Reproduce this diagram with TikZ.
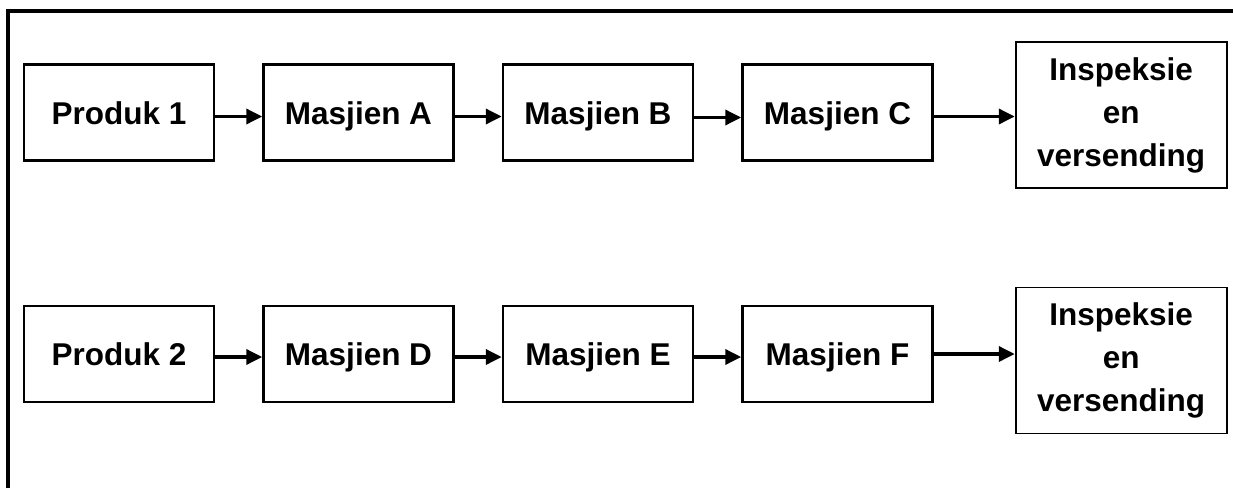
\documentclass[tikz,border=0pt]{standalone}
\usepackage{fontspec}
\setmainfont{Liberation Sans}
\usetikzlibrary{arrows.meta, positioning}

\begin{document}
\begin{tikzpicture}[x=0.5pt, y=-0.5pt]
\tikzstyle{stage} = [rectangle, draw, line width=1.25pt, minimum width=95pt, minimum height=48pt, inner sep=0pt, text height=13pt, text depth=1.5pt, font=\fontsize{15.75}{21.5}\selectfont\bfseries]
\tikzstyle{finish} = [stage, line width=0.9pt, minimum width=105.5pt, minimum height=73pt, text height=, text depth=, align=center]
\tikzstyle{arrow} = [line width=1.75pt, -{Triangle[length=8pt, width=7.5pt]}]

\useasboundingbox (0,0) rectangle (1233,488);
\draw [line width=2pt] (8,488) -- (8,11) -- (1233,11);

% product 1
\node (prod1) [stage] at (119,112.5) {Produk 1};
\node (machA) [stage, right=23.5pt of prod1] {Masjien A};
\node (machB) [stage, right=23.5pt of machA] {Masjien B};
\node (machC) [stage, right=23.5pt of machB] {Masjien C};
\node (ship1) [finish, right=40.5pt of machC, yshift=-1.25pt] {Inspeksie\\en\\versending};

\draw [arrow] ([yshift=-2pt]prod1.east) -- ([yshift=-2pt]machA.west);
\draw [arrow] ([yshift=-2pt]machA.east) -- ([yshift=-2pt]machB.west);
\draw [arrow] ([yshift=-2.5pt]machB.east) -- ([yshift=-2.5pt]machC.west);
\draw [arrow] ([yshift=-2pt]machC.east) -- ([yshift=-2pt]machC.east -| ship1.west);

% product 2
\node (prod2) [stage] at (119,354) {Produk 2};
\node (machD) [stage, right=23.5pt of prod2] {Masjien D};
\node (machE) [stage, right=23.5pt of machD] {Masjien E};
\node (machF) [stage, right=23.5pt of machE] {Masjien F};
\node (ship2) [finish, right=40.5pt of machF, yshift=-3.25pt] {Inspeksie\\en\\versending};

\draw [arrow] ([yshift=-1.5pt]prod2.east) -- ([yshift=-1.5pt]machD.west);
\draw [arrow] ([yshift=-1.5pt]machD.east) -- ([yshift=-1.5pt]machE.west);
\draw [arrow] ([yshift=-1.5pt]machE.east) -- ([yshift=-1.5pt]machF.west);
\draw [arrow] (machF.east) -- (machF.east -| ship2.west);

\end{tikzpicture}
\end{document}
